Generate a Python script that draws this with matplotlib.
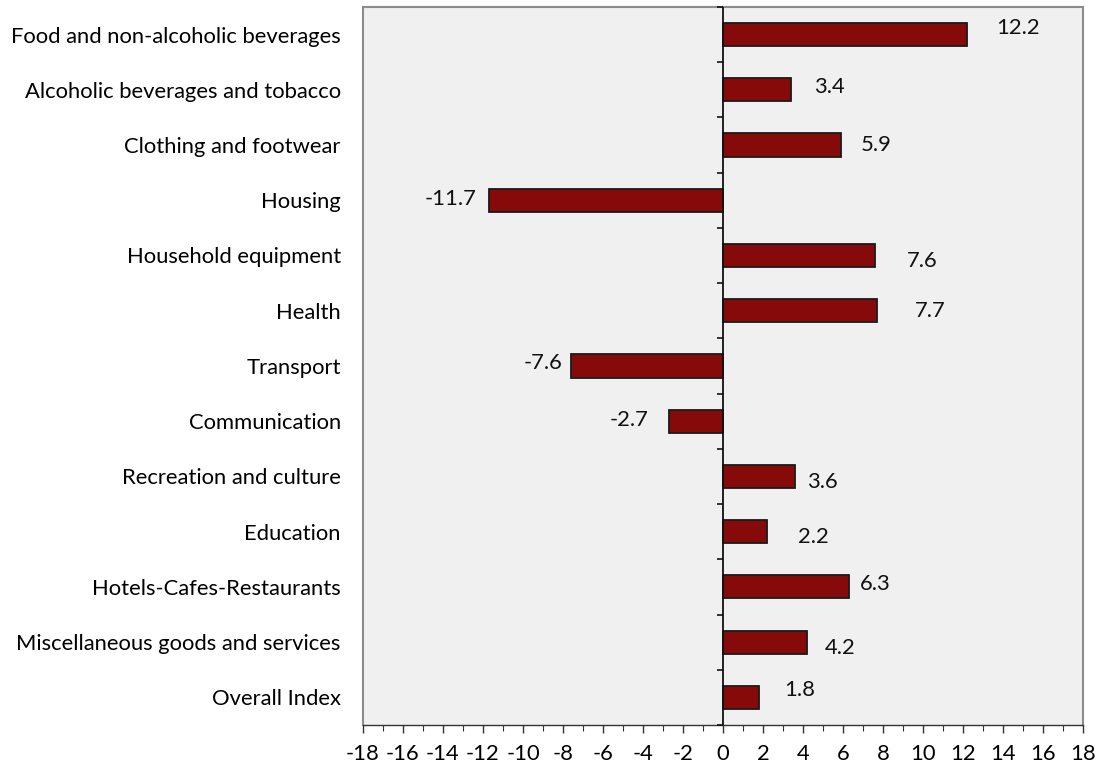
import matplotlib
matplotlib.use("Agg")
import matplotlib.pyplot as plt
from matplotlib.ticker import MultipleLocator
import numpy as np

categories = [
    "Food and non-alcoholic beverages",
    "Alcoholic beverages and tobacco",
    "Clothing and footwear",
    "Housing",
    "Household equipment",
    "Health",
    "Transport",
    "Communication",
    "Recreation and culture",
    "Education",
    "Hotels-Cafes-Restaurants",
    "Miscellaneous goods and services",
    "Overall Index",
]
values = [12.2, 3.4, 5.9, -11.7, 7.6, 7.7, -7.6, -2.7, 3.6, 2.2, 6.3, 4.2, 1.8]
# label offsets (points): horizontal gap from bar end, vertical shift (positive = up)
label_dx = [21, 17, 14, 9, 23, 27, 6, 15, 9, 22, 8, 13, 18]
label_dy = [5, 2, 0, 1, -4, 0, 2, 1, -4, -4, 2, -4, 5]

plt.rcParams['font.family'] = ['Lato', 'DejaVu Sans']
FS = 15.8

fig = plt.figure(figsize=(11, 7.71), dpi=100)
ax = fig.add_axes([0.330, 0.0597, 0.6545, 0.9313])
ax.set_facecolor('#F0F0F0')

y = np.arange(len(categories))
ax.barh(y, values, height=0.42, color='#870A0A', edgecolor='#1a1a1a', linewidth=1.3, zorder=3)

ax.set_xlim(-18, 18)
ax.set_ylim(len(categories) - 0.5, -0.5)
ax.xaxis.set_major_locator(MultipleLocator(2))
ax.xaxis.set_minor_locator(MultipleLocator(1))
ax.set_xticklabels([f"{int(t)}" for t in ax.get_xticks()])
ax.tick_params(axis='x', which='major', length=6, width=1.0, color='#333333', labelsize=FS, pad=8)
ax.tick_params(axis='x', which='minor', length=4, width=0.8, color='#333333')

ax.set_yticks(y)
ax.set_yticklabels(categories)
ax.tick_params(axis='y', length=0, labelsize=FS, pad=16)

for s in ['left', 'top', 'right']:
    ax.spines[s].set_color('#8c8c8c')
    ax.spines[s].set_linewidth(1.5)
ax.spines['bottom'].set_color('#333333')
ax.spines['bottom'].set_linewidth(1.0)

# zero line with category-boundary ticks
ax.axvline(0, color='#111111', linewidth=1.3, zorder=4)
bounds = np.arange(len(categories) + 1) - 0.5
ax.hlines(bounds, -0.3, 0, color='#111111', linewidth=1.2, zorder=4, clip_on=False)

for i, v in enumerate(values):
    if v >= 0:
        ax.annotate(f"{v}", xy=(v, i), xytext=(label_dx[i], label_dy[i]), textcoords='offset points',
                    ha='left', va='center', fontsize=FS, color='#111111')
    else:
        ax.annotate(f"{v}", xy=(v, i), xytext=(-label_dx[i], label_dy[i]), textcoords='offset points',
                    ha='right', va='center', fontsize=FS, color='#111111')

fig.savefig("out.png", dpi=100)
